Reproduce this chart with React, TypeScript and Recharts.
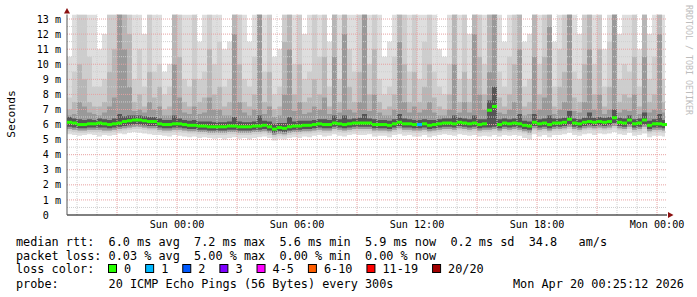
import React from 'react';
import { ComposedChart, Area, Scatter, XAxis, YAxis, ReferenceLine } from 'recharts';

// time axis: hours since Sat 18:30, one sample column every 15 minutes
const timeTicks = [5.5, 11.5, 17.5, 23.5, 29.5];
const timeLabels = ['Sun 00:00', 'Sun 06:00', 'Sun 12:00', 'Sun 18:00', 'Mon 00:00'];
const yTicks = [0, 1, 2, 3, 4, 5, 6, 7, 8, 9, 10, 11, 12, 13];
const yMinor = [0.5, 1.5, 2.5, 3.5, 4.5, 5.5, 6.5, 7.5, 8.5, 9.5, 10.5, 11.5, 12.5];
const xMajor = [2.5, 5.5, 8.5, 11.5, 14.5, 17.5, 20.5, 23.5, 26.5, 29.5];
const xMinor = [0.5, 1.5, 3.5, 4.5, 6.5, 7.5, 9.5, 10.5, 12.5, 13.5, 15.5, 16.5, 18.5, 19.5, 21.5, 22.5, 24.5, 25.5, 27.5, 28.5];

// median rtt (ms)
const median = [
  6.15, 6.1, 6.0, 6.0, 6.05, 6.05, 6.1, 6.05, 6.0, 6.05,
  6.1, 6.2, 6.25, 6.3, 6.3, 6.25, 6.2, 6.2, 6.05, 6.0,
  6.0, 6.05, 6.05, 6.0, 5.95, 5.95, 5.9, 5.9, 5.85, 5.85,
  5.85, 5.85, 5.9, 5.9, 5.85, 5.85, 5.85, 5.9, 5.9, 5.95,
  5.85, 5.7, 5.8, 5.75, 5.85, 5.9, 5.9, 5.95, 5.95, 6.0,
  6.05, 6.0, 6.0, 6.1, 6.05, 6.0, 6.05, 6.1, 6.1, 6.1,
  6.1, 6.0, 6.0, 6.0, 5.95, 6.05, 6.15, 6.05, 6.05, 6.0,
  6.0, 6.05, 5.95, 6.0, 6.05, 6.1, 6.1, 6.05, 6.15, 6.1,
  6.05, 6.1, 6.0, 6.05, 6.95, 7.2, 6.0, 6.1, 6.05, 6.1,
  6.05, 5.95, 5.9, 6.15, 6.05, 6.1, 6.0, 6.1, 6.1, 6.15,
  6.35, 6.1, 6.05, 6.15, 6.2, 6.15, 6.2, 6.15, 6.2, 6.45,
  6.15, 6.1, 6.3, 6.05, 6.1, 6.3, 5.95, 6.05, 6.05, 6.0,
];

// lost pings out of 20 per column
const lossCount = [
  0, 0, 0, 0, 0, 0, 0, 0, 0, 0, 0, 0, 0, 0, 0, 0, 0, 0, 0, 0,
  0, 0, 0, 0, 0, 0, 0, 0, 0, 0, 0, 0, 0, 0, 0, 0, 0, 0, 0, 0,
  0, 0, 0, 0, 0, 0, 0, 0, 0, 0, 0, 0, 0, 0, 0, 0, 0, 0, 0, 0,
  0, 0, 0, 0, 0, 0, 0, 0, 0, 0, 1, 0, 0, 0, 0, 0, 0, 0, 0, 0,
  0, 0, 0, 0, 0, 0, 0, 0, 0, 0, 0, 0, 0, 0, 0, 0, 0, 0, 0, 0,
  0, 0, 0, 0, 0, 0, 0, 0, 0, 0, 0, 0, 0, 0, 0, 0, 0, 0, 0, 0,
];

// smoke bands (outermost / lightest first): upper edges
const hiA = [
  10.5, 13.3, 13.3, 13.3, 13.3, 13.3, 11, 12, 13.3, 13.3,
  13.3, 13.3, 13.3, 13.3, 13.3, 12, 13.3, 13.3, 13.3, 9.5,
  10, 13.3, 13.3, 13.3, 13.3, 13.3, 11.5, 13.3, 13.3, 13.3,
  13.3, 11, 11.5, 13.3, 13.3, 13.3, 11.5, 13.3, 13.3, 13.3,
  13.3, 10.5, 11, 13.3, 13.3, 13.3, 13.3, 12, 13.3, 13.3,
  13.3, 13.3, 11.5, 13.3, 13.3, 13.3, 13.3, 13.3, 13.3, 13.3,
  13.3, 13.3, 13.3, 10.5, 11.5, 13.3, 13.3, 13.3, 13.3, 13.3,
  13.3, 13.3, 13.3, 13.3, 11, 10.5, 13.3, 13.3, 13.3, 13.3,
  12, 13.3, 13.3, 13.3, 13.3, 13.3, 13.3, 11.5, 13.3, 13.3,
  13.3, 11.5, 12, 13.3, 13.3, 13.3, 13.3, 11.5, 13.3, 13.3,
  13.3, 13.3, 12, 13.3, 13.3, 13.3, 13.3, 11, 13.3, 13.3,
  12, 13.3, 13.3, 13.3, 11, 13.3, 12, 13.3, 13.3, 13.3,
];
const hiB = [
  7.8, 9.5, 13.3, 13.3, 10.5, 8.5, 8.5, 9, 13.3, 13.3,
  13.3, 13.3, 13.3, 9, 11, 8.5, 13.3, 9.5, 10, 8,
  8.5, 13.3, 13.3, 9, 8.5, 13.3, 9, 9.5, 13.3, 10,
  11.5, 8.5, 9, 13.3, 13.3, 9, 8.5, 10.5, 13.3, 9.5,
  13.3, 8, 8.5, 13.3, 13.3, 10, 13.3, 9, 9.5, 13.3,
  10.5, 13.3, 8.5, 13.3, 9, 13.3, 11, 9.5, 13.3, 13.3,
  10, 13.3, 9, 8, 8.5, 10.5, 13.3, 13.3, 9.5, 13.3,
  9, 11.5, 13.3, 9.5, 8.5, 8, 10, 13.3, 9, 13.3,
  9, 13.3, 13.3, 10, 13.3, 13.3, 9.5, 8.5, 10.5, 13.3,
  13.3, 8.5, 9, 13.3, 10, 13.3, 13.3, 8.5, 11, 13.3,
  13.3, 9.5, 9, 13.3, 13.3, 10, 13.3, 8.5, 11.5, 13.3,
  9, 10, 9.5, 13.3, 8.5, 13.3, 9, 10.5, 13.3, 9,
];
const hiC = [
  7.0, 7.5, 10, 9, 7.5, 7.2, 7.2, 7.5, 9.5, 11,
  13.3, 13.3, 12, 7.5, 8, 7.2, 9.5, 7.8, 8.5, 7.0,
  7.2, 13.3, 10.5, 7.5, 7.2, 9, 7.5, 7.8, 11, 8,
  8.5, 7.2, 7.5, 13.3, 10, 7.5, 7.2, 8, 13.3, 7.5,
  9.5, 7.0, 7.2, 11.5, 13.3, 8, 10, 7.5, 7.8, 9,
  8, 10.5, 7.2, 13.3, 7.5, 13.3, 8.5, 7.5, 9.5, 13.3,
  8, 11, 7.5, 7.0, 7.2, 8, 13.3, 10, 7.5, 9.5,
  7.5, 8.5, 10, 7.8, 7.2, 7.0, 8, 13.3, 7.5, 9.5,
  7.5, 13.3, 10.5, 8, 13.3, 13.3, 7.8, 7.2, 8, 10,
  13.3, 7.2, 7.5, 13.3, 8, 10.5, 13.3, 7.2, 8.5, 9.5,
  13.3, 7.8, 7.5, 10, 13.3, 8, 11, 7.2, 8.5, 13.3,
  7.5, 8, 7.8, 10.5, 7.2, 13.3, 7.5, 8, 13.3, 7.5,
];
const hiD = [
  6.6, 6.7, 7.5, 7.2, 6.8, 6.7, 6.6, 6.8, 7.2, 7.8,
  13.3, 11, 8.5, 6.9, 7.0, 6.8, 7.5, 7.0, 7.2, 6.6,
  6.6, 10, 7.8, 6.8, 6.7, 7.2, 6.7, 6.8, 7.8, 7.0,
  7.0, 6.6, 6.6, 12, 7.5, 6.8, 6.6, 7.0, 13.3, 6.7,
  7.2, 6.5, 6.6, 8, 11, 6.9, 7.5, 6.7, 6.8, 7.2,
  7.0, 7.8, 6.7, 10.5, 6.8, 12, 7.0, 6.8, 7.5, 13.3,
  6.9, 8, 6.8, 6.6, 6.6, 7.0, 11.5, 7.5, 6.8, 7.2,
  6.8, 7.0, 7.5, 6.8, 6.6, 6.6, 7.0, 10, 6.8, 7.5,
  6.8, 12, 8, 7.0, 9.5, 13.3, 6.8, 6.7, 7.0, 7.5,
  11, 6.6, 6.7, 10.5, 7.0, 7.8, 12.5, 6.7, 7.0, 7.5,
  13.3, 6.9, 6.8, 7.5, 11, 7.0, 8, 6.7, 7.0, 13.3,
  6.8, 7.0, 6.9, 8, 6.7, 10.5, 6.8, 7.0, 12, 6.8,
];
const hiE = [
  6.5, 6.4, 6.35, 6.3, 6.35, 6.3, 6.4, 6.35, 6.3, 6.4,
  6.7, 6.55, 6.6, 6.6, 6.6, 6.55, 6.5, 6.5, 6.4, 6.3,
  6.3, 6.6, 6.4, 6.3, 6.25, 6.3, 6.2, 6.2, 6.2, 6.15,
  6.15, 6.15, 6.2, 6.5, 6.2, 6.15, 6.15, 6.2, 6.6, 6.25,
  6.2, 6.05, 6.1, 6.1, 6.5, 6.2, 6.25, 6.25, 6.25, 6.3,
  6.35, 6.35, 6.3, 6.6, 6.35, 6.6, 6.35, 6.4, 6.45, 6.7,
  6.4, 6.35, 6.3, 6.3, 6.25, 6.35, 6.7, 6.4, 6.35, 6.3,
  6.3, 6.35, 6.3, 6.3, 6.35, 6.4, 6.4, 6.6, 6.45, 6.4,
  6.35, 6.6, 6.35, 6.35, 7.6, 8.5, 6.35, 6.4, 6.35, 6.4,
  6.7, 6.25, 6.2, 6.7, 6.35, 6.4, 6.6, 6.4, 6.4, 6.45,
  6.9, 6.4, 6.35, 6.45, 6.8, 6.45, 6.5, 6.45, 6.5, 7.0,
  6.45, 6.4, 6.6, 6.35, 6.4, 6.8, 6.25, 6.35, 6.7, 6.3,
];
// lower edges
const loA = [
  5.35, 5.3, 5.25, 5.3, 5.35, 5.3, 5.2, 5.3, 5.25, 5.3,
  5.4, 5.35, 5.45, 5.5, 5.45, 5.4, 5.35, 5.3, 5.3, 5.25,
  5.2, 5.3, 5.25, 5.2, 5.15, 5.2, 5.1, 5.15, 5.1, 5.05,
  5.1, 5.0, 5.1, 5.15, 5.05, 5.1, 5.0, 5.1, 5.15, 5.2,
  5.1, 4.95, 5.05, 5.0, 5.1, 5.15, 5.1, 5.2, 5.15, 5.25,
  5.3, 5.2, 5.25, 5.35, 5.25, 5.2, 5.3, 5.35, 5.3, 5.3,
  5.35, 5.2, 5.25, 5.25, 5.15, 5.3, 5.35, 5.25, 5.3, 5.2,
  5.2, 5.3, 5.15, 5.25, 5.3, 5.35, 5.3, 5.25, 5.35, 5.3,
  5.25, 5.3, 5.2, 5.25, 5.2, 5.3, 5.2, 5.3, 5.25, 5.3,
  5.25, 5.1, 5.0, 5.35, 5.2, 5.3, 5.15, 5.3, 5.3, 5.35,
  5.45, 5.3, 5.25, 5.35, 5.4, 5.3, 5.4, 5.35, 5.4, 5.5,
  5.35, 5.3, 5.45, 5.25, 5.3, 5.4, 5.15, 5.25, 5.25, 5.2,
];
const loB = [
  5.55, 5.5, 5.45, 5.45, 5.5, 5.5, 5.5, 5.45, 5.45, 5.5,
  5.55, 5.6, 5.65, 5.7, 5.7, 5.65, 5.6, 5.6, 5.5, 5.45,
  5.45, 5.5, 5.5, 5.45, 5.4, 5.4, 5.35, 5.35, 5.3, 5.3,
  5.3, 5.3, 5.35, 5.35, 5.3, 5.3, 5.3, 5.35, 5.35, 5.4,
  5.3, 5.15, 5.25, 5.2, 5.3, 5.35, 5.35, 5.4, 5.4, 5.45,
  5.5, 5.45, 5.45, 5.55, 5.5, 5.45, 5.5, 5.55, 5.55, 5.55,
  5.55, 5.45, 5.45, 5.45, 5.4, 5.5, 5.6, 5.5, 5.5, 5.45,
  5.45, 5.5, 5.4, 5.45, 5.5, 5.55, 5.55, 5.5, 5.6, 5.55,
  5.5, 5.55, 5.45, 5.5, 5.5, 5.55, 5.45, 5.55, 5.5, 5.55,
  5.5, 5.4, 5.3, 5.6, 5.5, 5.55, 5.45, 5.55, 5.55, 5.6,
  5.7, 5.55, 5.5, 5.6, 5.65, 5.6, 5.65, 5.6, 5.65, 5.75,
  5.6, 5.55, 5.7, 5.5, 5.55, 5.7, 5.4, 5.5, 5.5, 5.45,
];
const loC = [
  5.7, 5.65, 5.6, 5.6, 5.65, 5.65, 5.65, 5.6, 5.6, 5.65,
  5.7, 5.75, 5.8, 5.85, 5.85, 5.8, 5.75, 5.75, 5.65, 5.6,
  5.6, 5.65, 5.65, 5.6, 5.55, 5.55, 5.5, 5.5, 5.45, 5.45,
  5.45, 5.45, 5.5, 5.5, 5.45, 5.45, 5.45, 5.5, 5.5, 5.55,
  5.45, 5.3, 5.4, 5.35, 5.45, 5.5, 5.5, 5.55, 5.55, 5.6,
  5.65, 5.6, 5.6, 5.7, 5.65, 5.6, 5.65, 5.7, 5.7, 5.7,
  5.7, 5.6, 5.6, 5.6, 5.55, 5.65, 5.75, 5.65, 5.65, 5.6,
  5.6, 5.65, 5.55, 5.6, 5.65, 5.7, 5.7, 5.65, 5.75, 5.7,
  5.65, 5.7, 5.6, 5.65, 5.65, 5.7, 5.6, 5.7, 5.65, 5.7,
  5.65, 5.55, 5.45, 5.75, 5.65, 5.7, 5.6, 5.7, 5.7, 5.75,
  5.85, 5.7, 5.65, 5.75, 5.8, 5.75, 5.8, 5.75, 5.8, 5.9,
  5.75, 5.7, 5.85, 5.65, 5.7, 5.85, 5.55, 5.65, 5.65, 5.6,
];
const loE = [
  5.85, 5.8, 5.75, 5.75, 5.8, 5.8, 5.8, 5.8, 5.75, 5.8,
  5.85, 5.9, 5.95, 6.0, 6.0, 5.95, 5.9, 5.9, 5.8, 5.75,
  5.75, 5.8, 5.8, 5.75, 5.7, 5.7, 5.65, 5.65, 5.6, 5.6,
  5.6, 5.6, 5.65, 5.65, 5.6, 5.6, 5.6, 5.65, 5.65, 5.7,
  5.6, 5.45, 5.55, 5.5, 5.6, 5.65, 5.65, 5.7, 5.7, 5.75,
  5.8, 5.75, 5.75, 5.85, 5.8, 5.75, 5.8, 5.85, 5.85, 5.85,
  5.85, 5.75, 5.75, 5.75, 5.7, 5.8, 5.9, 5.8, 5.8, 5.75,
  5.75, 5.8, 5.7, 5.75, 5.8, 5.85, 5.85, 5.8, 5.9, 5.85,
  5.8, 5.85, 5.75, 5.8, 5.8, 5.85, 5.75, 5.85, 5.8, 5.85,
  5.8, 5.7, 5.65, 5.9, 5.8, 5.85, 5.75, 5.85, 5.85, 5.9,
  6.0, 5.85, 5.8, 5.9, 5.95, 5.9, 5.95, 5.9, 5.95, 6.1,
  5.9, 5.85, 6.0, 5.8, 5.85, 6.0, 5.7, 5.8, 5.8, 5.75,
];

const lossLabels = ['0', '1', '2', '3', '4-5', '6-10', '11-19', '20/20'];
const lossColors = ['#26ff00', '#00b8ff', '#0059ff', '#7e00ff', '#ff00ff', '#ff5e00', '#ff0000', '#a10000'];
const lossBucket = (n: number) => (n <= 3 ? n : n <= 5 ? 4 : n <= 10 ? 5 : n <= 19 ? 6 : 7);

const rttLine = 'median rtt:  6.0 ms avg  7.2 ms max  5.6 ms min  5.9 ms now  0.2 ms sd  34.8   am/s';
const lossLine = 'packet loss: 0.03 % avg  5.00 % max  0.00 % min  0.00 % now';
const probeLine = 'probe:       20 ICMP Echo Pings (56 Bytes) every 300s';
const stampText = 'Mon Apr 20 00:25:12 2026';

const STEP = 0.25;
const data: any[] = median.map((m, i) => ({
  t: i * STEP,
  a: [loA[i], hiA[i]],
  b: [loB[i], hiB[i]],
  c: [loC[i], hiC[i]],
  d: [loC[i], hiD[i]],
  e: [loE[i], hiE[i]],
}));
data.push({ ...data[data.length - 1], t: 29.9 });
const medPts = median.map((m, i) => ({ t: i * STEP + STEP / 2, med: m, loss: lossCount[i] }));

const MONO = 'DejaVu Sans Mono';

const XTick = (p: any) => (
  <text x={p.x} y={p.y} dy="0.71em" textAnchor="middle" fontFamily={MONO} fontSize={10.1} fill="#000">
    {timeLabels[timeTicks.indexOf(p.payload.value)]}
  </text>
);
const YTick = (p: any) => (
  <text x={p.x} y={p.y} dy="0.36em" textAnchor="end" fontFamily={MONO} fontSize={10.1} fill="#000"
    xmlSpace="preserve" style={{ whiteSpace: 'pre' }}>
    {p.payload.value === 0 ? '0  ' : `${p.payload.value} m`}
  </text>
);

const MedShape = (p: any) => (
  <rect x={p.cx - 2.5} y={p.cy - 1.5} width={5} height={3} fill={lossColors[lossBucket(p.payload.loss)]} />
);

export default function App() {
  let lx = 108;
  const legendItems = lossLabels.map((lab, i) => {
    const sx = lx;
    lx = sx + 16 + lab.length * 7.13 + 14;
    return (
      <g key={lab}>
        <rect x={sx + 0.5} y={264.5} width={8} height={8} fill={lossColors[i]} stroke="#000" strokeWidth={1} />
        <text x={sx + 16} y={273} fontFamily={MONO} fontSize={11.84} fill="#000">{lab}</text>
      </g>
    );
  });
  return (
    <div style={{ position: 'absolute', left: 0, top: 0, width: 697, height: 297, background: '#fff' }}>
      <ComposedChart width={697} height={297} data={data} margin={{ top: 14.5, right: 30, bottom: 62, left: 7 }}>
        <XAxis type="number" dataKey="t" domain={[0, 30]} ticks={timeTicks} interval={0} allowDataOverflow
          height={20} tickSize={0} tickMargin={6} tick={<XTick />} axisLine={{ stroke: '#000' }} tickLine={false} />
        <YAxis type="number" domain={[0, 13.3]} ticks={yTicks} interval={0} allowDataOverflow width={60}
          tickSize={0} tickMargin={6} tick={<YTick />} axisLine={{ stroke: '#555' }} tickLine={false} />
        <Area type="stepAfter" dataKey="a" stroke="none" fill="#dedede" fillOpacity={1} isAnimationActive={false} dot={false} activeDot={false} />
        <Area type="stepAfter" dataKey="b" stroke="none" fill="#cdcdcd" fillOpacity={1} isAnimationActive={false} dot={false} activeDot={false} />
        <Area type="stepAfter" dataKey="c" stroke="none" fill="#b6b6b6" fillOpacity={1} isAnimationActive={false} dot={false} activeDot={false} />
        <Area type="stepAfter" dataKey="d" stroke="none" fill="#999999" fillOpacity={1} isAnimationActive={false} dot={false} activeDot={false} />
        <Area type="stepAfter" dataKey="e" stroke="none" fill="#555555" fillOpacity={1} isAnimationActive={false} dot={false} activeDot={false} />
        {yMinor.map((v) => (
          <ReferenceLine key={'ym' + v} y={v} stroke="#cfcfcf" strokeDasharray="1 1" />
        ))}
        {xMinor.map((v) => (
          <ReferenceLine key={'xm' + v} x={v} stroke="#cfcfcf" strokeDasharray="1 1" />
        ))}
        {yTicks.filter((v) => v > 0).map((v) => (
          <ReferenceLine key={'yM' + v} y={v} stroke="#e8a0a0" strokeDasharray="1 1" />
        ))}
        {xMajor.map((v) => (
          <ReferenceLine key={'xM' + v} x={v} stroke="#e8a0a0" strokeDasharray="1 1" />
        ))}
        <Scatter data={medPts} dataKey="med" shape={MedShape} isAnimationActive={false} />
      </ComposedChart>
      <svg width={697} height={297} style={{ position: 'absolute', left: 0, top: 0, pointerEvents: 'none' }}>
        <polygon points="64,13.5 70,13.5 67,8" fill="#8b1010" />
        <polygon points="668,212 668,218 673.5,215" fill="#8b1010" />
        <text transform="translate(11,114) rotate(-90)" dy="0.35em" textAnchor="middle" fontFamily={MONO} fontSize={11.3} fill="#000">Seconds</text>
        <text transform="translate(688.5,5) rotate(90)" dy="0.35em" textAnchor="start" fontFamily={MONO} fontSize={8.3} fill="#bdbdbd">RRDTOOL / TOBI OETIKER</text>
        <g fontFamily={MONO} fontSize={11.84} fill="#000">
          <text x={16} y={245.5} xmlSpace="preserve" style={{ whiteSpace: 'pre' }}>{rttLine}</text>
          <text x={16} y={259.5} xmlSpace="preserve" style={{ whiteSpace: 'pre' }}>{lossLine}</text>
          <text x={16} y={273} xmlSpace="preserve" style={{ whiteSpace: 'pre' }}>loss color:</text>
          <text x={16} y={287.5} xmlSpace="preserve" style={{ whiteSpace: 'pre' }}>{probeLine}</text>
          <text x={513} y={287.5}>{stampText}</text>
        </g>
        {legendItems}
      </svg>
    </div>
  );
}
